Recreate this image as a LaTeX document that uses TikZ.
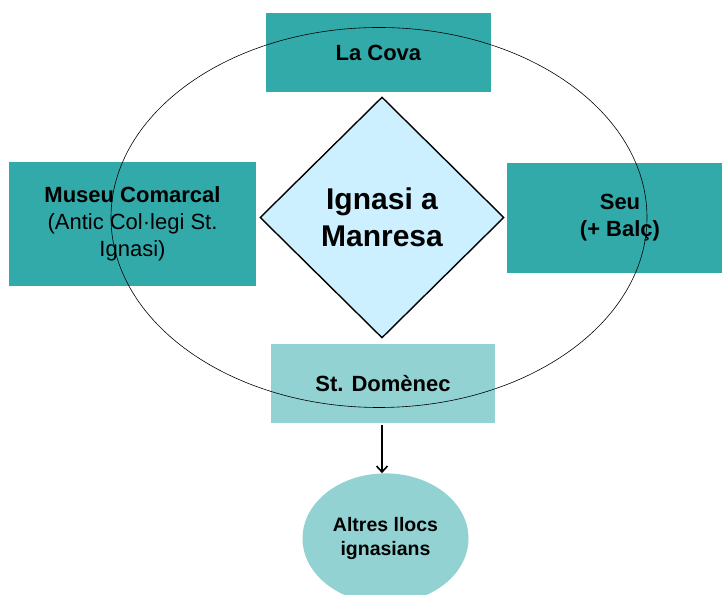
\documentclass[tikz,border=0pt]{standalone}
\usepackage{fontspec}
\setmainfont{Liberation Sans}
\usepackage{tikz}
\usetikzlibrary{shapes,positioning,calc}
\usetikzlibrary{shapes.geometric, arrows}
\usetikzlibrary{arrows.meta}
\definecolor{teal}{RGB}{51,170,170}
\definecolor{lightteal}{RGB}{146,210,210}
\definecolor{skyblue}{RGB}{204,240,255}
\tikzstyle{arrow} = [line width=1.6pt,-{Straight Barb[length=6pt,width=11pt]}]

\begin{document}
\begin{tikzpicture}[x=1pt, y=1pt,
		place/.style={rectangle, fill=teal, align=center, font=\fontsize{22}{27}\selectfont, inner sep=0pt},
		center/.style={diamond, draw=black, line width=1.4pt, fill=skyblue, aspect=1, inner sep=0pt, align=center, font=\bfseries\fontsize{30}{37}\selectfont},
		other/.style={ellipse, fill=lightteal, inner sep=0pt, align=center, font=\bfseries\fontsize{19.5}{24}\selectfont}]
			
			\useasboundingbox (0,0) rectangle (722,594);
			
			% PLACES
			
			\node [place, minimum width=225pt, minimum height=79pt] (cova) at (378.5,541.5) {\textbf{La Cova}};
			
			\node [place, minimum width=247pt, minimum height=124pt] (museu) at (132.5,370) {\textbf{Museu Comarcal}\\(Antic Col·legi St.\\Ignasi)};
			
			\node [place, minimum width=226pt, minimum height=110pt] (seu) at (620,376) {\textbf{Seu}\\\textbf{(+ Balç)}};
			
			\node [place, fill=lightteal, minimum width=224pt, minimum height=79pt] (domenec) at (383,210.5) {\textbf{St. Domènec}};
			
			% ROUND
			
			\draw [line width=0.6pt] (379,376.5) ellipse [x radius=268pt, y radius=190pt];
			
			\node [center, minimum width=244pt, minimum height=241pt] (ignasi) at (382,376.5) {Ignasi a\\Manresa};
			
			% OTHERS
			
			\node [other, minimum width=166pt, minimum height=130pt, below=50pt of domenec.south, anchor=north, xshift=2.5pt] (altres) {Altres llocs\\ignasians};
			
			\draw [arrow] ([xshift=-1pt,yshift=-2pt]domenec.south) -- ([xshift=-1pt]domenec.south |- altres.north);
		
		\end{tikzpicture}
\end{document}
